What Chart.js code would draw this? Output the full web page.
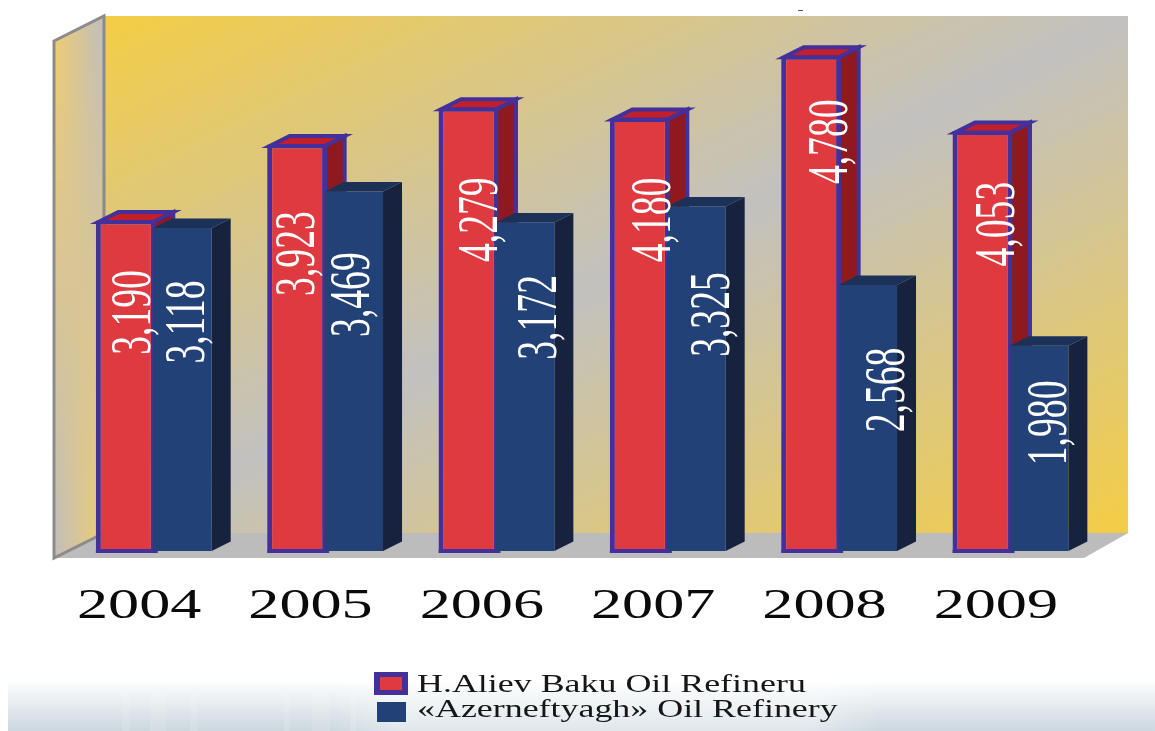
<!DOCTYPE html>
<html>
<head>
<meta charset="utf-8">
<title>Oil refining 2004-2009</title>
<script src="https://cdn.jsdelivr.net/npm/chart.js@4"></script>
<style>
    html, body { margin: 0; padding: 0; background: #fff; }
    canvas { display: block; }
</style>
</head>
<body>
<canvas id="refinery-chart" width="1155" height="731"></canvas>
<script>
    // --- DATA ---
    const years = ['2004', '2005', '2006', '2007', '2008', '2009'];
    const bakuLabel = 'H.Aliev Baku Oil Refineru';
    const azerLabel = '«Azerneftyagh» Oil Refinery';
    const bakuValues = [3190, 3923, 4279, 4180, 4780, 4053];
    const azerValues = [3118, 3469, 3172, 3325, 2568, 1980];

    // --- COLOURS ---
    const PURPLE = '#43309a';
    const RED = { front: '#e03a41', top: '#c21f2a', side: '#8e1a20' };
    const BLUE = { front: '#224176', top: '#1c3157', side: '#17233e' };

    // where the rotated value labels sit relative to the top of each bar
    const labelNudge = [
        { x: [5, -2, 10, 11, 17, 13], y: [92, 109, 112, 102, 86, 93] },
        { x: [2, -4, 12, 13, 17, 8], y: [94, 103, 95, 108, 105, 77] }
    ];

    function poly(ctx, pts) {
        ctx.beginPath();
        pts.forEach((p, i) => (i ? ctx.lineTo(p[0], p[1]) : ctx.moveTo(p[0], p[1])));
        ctx.closePath();
    }

    function mix(a, b, t) {
        const c = a.map((v, i) => Math.round(v + (b[i] - v) * t));
        return `rgb(${c[0]},${c[1]},${c[2]})`;
    }

    // Liberation Serif is too narrow for this lettering, so it gets stretched
    function stretchedText(ctx, text, x, y, font, sx, align) {
        ctx.save();
        ctx.translate(x, y);
        ctx.scale(sx, 1);
        ctx.font = font;
        ctx.textAlign = align;
        ctx.textBaseline = 'alphabetic';
        ctx.fillText(text, 0, 0);
        ctx.restore();
    }

    // --- PAGE BAND, WALLS, FLOOR ---
    function drawBand(ctx) {
        const band = ctx.createLinearGradient(0, 683, 0, 731);
        band.addColorStop(0, '#fbfcfc');
        band.addColorStop(1, '#cbd7df');
        ctx.fillStyle = band;
        ctx.fillRect(8, 683, 1147, 48);

        // lighter patch behind the legend
        const patch = ctx.createLinearGradient(330, 0, 880, 0);
        patch.addColorStop(0, 'rgba(255,255,255,0)');
        patch.addColorStop(0.12, 'rgba(255,255,255,0.4)');
        patch.addColorStop(0.88, 'rgba(255,255,255,0.4)');
        patch.addColorStop(1, 'rgba(255,255,255,0)');
        ctx.fillStyle = patch;
        ctx.fillRect(330, 683, 550, 48);

        ctx.fillStyle = 'rgba(255,255,255,0.13)';
        [[122, 8], [150, 16], [190, 7], [284, 6], [312, 18], [350, 6]].forEach(s => {
            ctx.fillRect(s[0], 694, s[1], 37);
        });
    }

    function drawBackWall(ctx) {
        const wall = ctx.createLinearGradient(408, -137, 824, 686);
        wall.addColorStop(0, '#f4cd45');
        wall.addColorStop(0.5, '#c2c1c0');
        wall.addColorStop(1, '#f4cd45');
        ctx.fillStyle = wall;
        ctx.fillRect(104, 16, 1024, 517);
    }

    function drawSideWall(ctx) {
        const yellow = [240, 205, 110];
        const grey = [192, 190, 190];
        ctx.save();
        poly(ctx, [[54, 41], [104, 16], [104, 533], [54, 558]]);
        ctx.clip();
        // the fade flips direction from the top of the wall to the bottom
        for (let y = 16; y < 558; y += 4) {
            const t = (y - 16) / 542;
            const g = ctx.createLinearGradient(54, 0, 104, 0);
            g.addColorStop(0, mix(yellow, grey, t));
            g.addColorStop(1, mix(grey, yellow, t));
            ctx.fillStyle = g;
            ctx.fillRect(54, y, 50, 4);
        }
        ctx.restore();
        ctx.strokeStyle = '#8b8b8b';
        ctx.lineWidth = 3;
        poly(ctx, [[54, 41], [104, 16], [104, 533], [54, 558]]);
        ctx.stroke();
    }

    function drawFloor(ctx) {
        ctx.fillStyle = '#bcbcbc';
        poly(ctx, [[54, 558], [104, 533], [1128, 533], [1084, 558]]);
        ctx.fill();
    }

    // --- 3D SIDES OF THE BARS ---
    function drawRedDepth(ctx, bar, base) {
        const dx = 20, dy = 10;
        const l = bar.x - bar.width / 2 + 2.5;
        const r = bar.x + bar.width / 2 - 2.5;
        const y = bar.y + 1.5;
        ctx.strokeStyle = PURPLE;
        ctx.lineWidth = 4;
        ctx.fillStyle = RED.side;
        // the lower end stays hidden behind the blue bar
        poly(ctx, [[r, y], [r + dx, y - dy], [r + dx, base - 20], [r, base - 20]]);
        ctx.fill();
        ctx.stroke();
        ctx.fillStyle = RED.top;
        poly(ctx, [[l, y], [l + dx, y - dy], [r + dx, y - dy], [r, y]]);
        ctx.fill();
        ctx.stroke();
        // lip of the outline, just below the floor line
        ctx.fillStyle = PURPLE;
        ctx.fillRect(bar.x - bar.width / 2, base - 1, bar.width + 2, 3);
    }

    function drawBlueDepth(ctx, bar, base) {
        const dx = 19, dy = 9.5;
        const l = bar.x - bar.width / 2;
        const r = bar.x + bar.width / 2;
        ctx.fillStyle = BLUE.side;
        poly(ctx, [[r, bar.y], [r + dx, bar.y - dy], [r + dx, base - dy], [r, base]]);
        ctx.fill();
        ctx.fillStyle = BLUE.top;
        poly(ctx, [[l, bar.y], [l + dx, bar.y - dy], [r + dx, bar.y - dy], [r, bar.y]]);
        ctx.fill();
    }

    const scenePlugin = {
        id: 'scene',
        beforeDraw(chart) {
            const ctx = chart.ctx;
            drawBand(ctx);
            drawBackWall(ctx);
            drawFloor(ctx);
            drawSideWall(ctx);
            ctx.fillStyle = '#555';
            ctx.fillRect(798, 10, 5, 1);
        },
        // red goes down first so the blue bars overlap its right edge
        beforeDatasetsDraw(chart) {
            const ctx = chart.ctx;
            const base = chart.scales.y.getPixelForValue(0);
            [0, 1].forEach(d => {
                const meta = chart.getDatasetMeta(d);
                meta.data.forEach(bar => {
                    if (d === 0) drawRedDepth(ctx, bar, base);
                    else drawBlueDepth(ctx, bar, base);
                });
                meta.controller.draw();
            });
            return false;
        },
        afterDraw(chart) {
            const ctx = chart.ctx;
            // value labels, running up the bars
            ctx.fillStyle = '#fff';
            chart.data.datasets.forEach((ds, d) => {
                chart.getDatasetMeta(d).data.forEach((bar, i) => {
                    const text = ds.data[i].toLocaleString('en-US');
                    ctx.save();
                    ctx.translate(bar.x + labelNudge[d].x[i] + 19, bar.y + labelNudge[d].y[i]);
                    ctx.rotate(-Math.PI / 2);
                    stretchedText(ctx, text, 0, 0, '57px "Liberation Serif"', 0.66, 'center');
                    ctx.restore();
                });
            });

            // year labels under the floor
            const xScale = chart.scales.x;
            ctx.fillStyle = '#0a0a0a';
            chart.data.labels.forEach((year, i) => {
                stretchedText(ctx, year, xScale.getPixelForTick(i) - 15, 618, '42px "Liberation Serif"', 1.48, 'center');
            });

            // legend
            ctx.fillStyle = PURPLE;
            ctx.fillRect(374, 672, 34, 23);
            ctx.fillStyle = chart.data.datasets[0].backgroundColor;
            ctx.fillRect(380, 677, 22, 13);
            ctx.fillStyle = chart.data.datasets[1].backgroundColor;
            ctx.fillRect(377, 702, 29, 20);
            ctx.fillStyle = '#161616';
            stretchedText(ctx, chart.data.datasets[0].label, 417, 692, '25px "Liberation Serif"', 1.436, 'left');
            stretchedText(ctx, chart.data.datasets[1].label, 417, 717, '25px "Liberation Serif"', 1.436, 'left');
        }
    };

    // --- CHART ---
    new Chart(document.getElementById('refinery-chart'), {
        type: 'bar',
        data: {
            labels: years,
            datasets: [
                {
                    label: bakuLabel,
                    data: bakuValues,
                    backgroundColor: RED.front,
                    borderColor: PURPLE,
                    borderWidth: { top: 4, left: 5, right: 5, bottom: 2 },
                    borderSkipped: false,
                    barPercentage: 1.058
                },
                {
                    label: azerLabel,
                    data: azerValues,
                    backgroundColor: BLUE.front,
                    borderWidth: 0,
                    barPercentage: 1.03
                }
            ]
        },
        options: {
            responsive: false,
            animation: false,
            categoryPercentage: 0.6616,
            layout: { padding: { left: 68.5, right: 58.5, top: 33, bottom: 172 } },
            plugins: { legend: { display: false }, tooltip: { enabled: false } },
            scales: {
                x: { grid: { display: false }, border: { display: false }, ticks: { display: false } },
                y: { display: false, min: 0, max: 5000 }
            }
        },
        plugins: [scenePlugin]
    });
</script>
</body>
</html>
